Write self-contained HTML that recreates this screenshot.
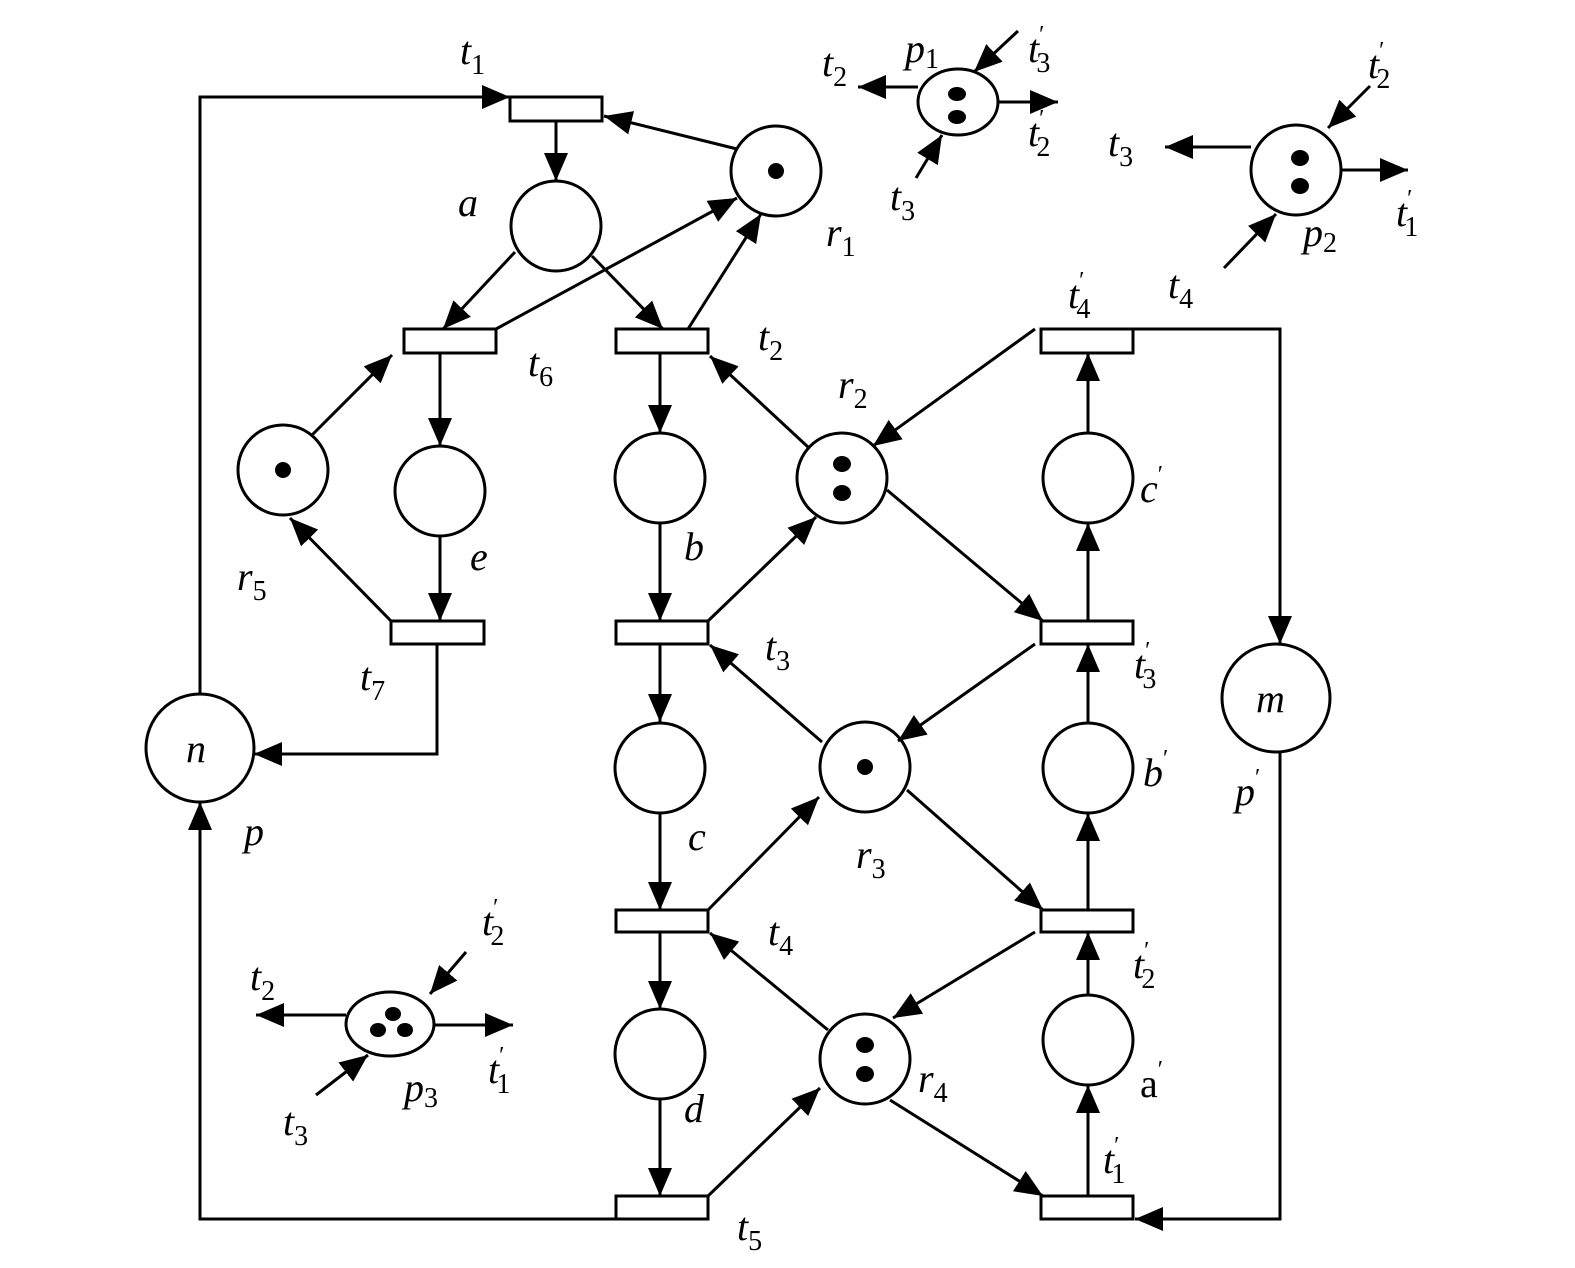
<!DOCTYPE html>
<html><head><meta charset="utf-8"><style>
html,body{margin:0;padding:0;background:#fff}
svg{display:block}
text{font-family:"Liberation Serif",serif;font-style:italic;font-size:40px;fill:#000}
.s{font-size:28px;font-style:normal}
.pr{font-size:24px;font-style:normal}
</style></head><body>
<svg width="1575" height="1268" viewBox="0 0 1575 1268" xmlns="http://www.w3.org/2000/svg">
<defs>
<marker id="ar" markerUnits="userSpaceOnUse" markerWidth="30" markerHeight="24" refX="28" refY="12" orient="auto">
<path d="M0,0 L28,12 L0,24 z" fill="#000"/>
</marker>
</defs>
<g stroke="#000" stroke-width="3" fill="none">
<rect x="510" y="97" width="92" height="24"/>
<rect x="404" y="329" width="92" height="24"/>
<rect x="616" y="329" width="92" height="24"/>
<rect x="1041" y="329" width="92" height="24"/>
<rect x="391" y="621" width="93" height="23"/>
<rect x="616" y="621" width="92" height="23"/>
<rect x="1041" y="621" width="92" height="23"/>
<rect x="616" y="910" width="92" height="22"/>
<rect x="1041" y="910" width="92" height="22"/>
<rect x="616" y="1196" width="92" height="23"/>
<rect x="1041" y="1196" width="92" height="23"/>
<circle cx="556" cy="226" r="45"/>
<circle cx="776" cy="171" r="45"/>
<circle cx="283" cy="470" r="45"/>
<circle cx="440" cy="491" r="45"/>
<circle cx="660" cy="478" r="45"/>
<circle cx="842" cy="478" r="45"/>
<circle cx="1088" cy="478" r="45"/>
<circle cx="200" cy="748" r="54"/>
<circle cx="660" cy="768" r="45"/>
<circle cx="865" cy="767" r="45"/>
<circle cx="1088" cy="768" r="45"/>
<circle cx="1276" cy="698" r="54"/>
<circle cx="660" cy="1054" r="45"/>
<circle cx="865" cy="1059" r="45"/>
<circle cx="1088" cy="1040" r="45"/>
<ellipse cx="958" cy="102" rx="40" ry="33"/>
<circle cx="1296" cy="170" r="45"/>
<ellipse cx="390" cy="1024" rx="44" ry="32"/>
<polyline points="200,694 200,97 510,97" marker-end="url(#ar)"/>
<line x1="556" y1="121" x2="556" y2="181" marker-end="url(#ar)"/>
<line x1="737" y1="149" x2="604" y2="116" marker-end="url(#ar)"/>
<line x1="515" y1="252" x2="443" y2="329" marker-end="url(#ar)"/>
<line x1="592" y1="256" x2="663" y2="329" marker-end="url(#ar)"/>
<line x1="496" y1="329" x2="737" y2="198" marker-end="url(#ar)"/>
<line x1="688" y1="329" x2="761" y2="214" marker-end="url(#ar)"/>
<line x1="440" y1="353" x2="440" y2="446" marker-end="url(#ar)"/>
<line x1="312" y1="435" x2="392" y2="355" marker-end="url(#ar)"/>
<line x1="440" y1="536" x2="440" y2="621" marker-end="url(#ar)"/>
<line x1="391" y1="621" x2="290" y2="518" marker-end="url(#ar)"/>
<polyline points="437,644 437,754 254,754" marker-end="url(#ar)"/>
<line x1="660" y1="353" x2="660" y2="433" marker-end="url(#ar)"/>
<line x1="808" y1="447" x2="710" y2="356" marker-end="url(#ar)"/>
<line x1="660" y1="523" x2="660" y2="621" marker-end="url(#ar)"/>
<line x1="708" y1="621" x2="816" y2="517" marker-end="url(#ar)"/>
<line x1="887" y1="490" x2="1043" y2="621" marker-end="url(#ar)"/>
<line x1="1035" y1="329" x2="873" y2="446" marker-end="url(#ar)"/>
<line x1="1088" y1="433" x2="1088" y2="353" marker-end="url(#ar)"/>
<line x1="1088" y1="621" x2="1088" y2="523" marker-end="url(#ar)"/>
<polyline points="1133,329 1280,329 1280,644" marker-end="url(#ar)"/>
<line x1="660" y1="644" x2="660" y2="722" marker-end="url(#ar)"/>
<line x1="822" y1="742" x2="710" y2="645" marker-end="url(#ar)"/>
<line x1="1035" y1="644" x2="898" y2="741" marker-end="url(#ar)"/>
<line x1="1088" y1="722" x2="1088" y2="644" marker-end="url(#ar)"/>
<line x1="907" y1="790" x2="1043" y2="910" marker-end="url(#ar)"/>
<line x1="660" y1="813" x2="660" y2="910" marker-end="url(#ar)"/>
<line x1="708" y1="910" x2="819" y2="797" marker-end="url(#ar)"/>
<line x1="1088" y1="910" x2="1088" y2="813" marker-end="url(#ar)"/>
<line x1="1035" y1="932" x2="893" y2="1018" marker-end="url(#ar)"/>
<line x1="828" y1="1030" x2="710" y2="933" marker-end="url(#ar)"/>
<line x1="660" y1="932" x2="660" y2="1009" marker-end="url(#ar)"/>
<line x1="1088" y1="995" x2="1088" y2="932" marker-end="url(#ar)"/>
<line x1="660" y1="1099" x2="660" y2="1196" marker-end="url(#ar)"/>
<line x1="708" y1="1196" x2="820" y2="1088" marker-end="url(#ar)"/>
<line x1="890" y1="1100" x2="1043" y2="1196" marker-end="url(#ar)"/>
<line x1="1088" y1="1196" x2="1088" y2="1085" marker-end="url(#ar)"/>
<polyline points="1280,752 1280,1219 1135,1219" marker-end="url(#ar)"/>
<polyline points="616,1219 200,1219 200,802" marker-end="url(#ar)"/>
<line x1="918" y1="87" x2="858" y2="87" marker-end="url(#ar)"/>
<line x1="998" y1="102" x2="1058" y2="102" marker-end="url(#ar)"/>
<line x1="1018" y1="31" x2="974" y2="72" marker-end="url(#ar)"/>
<line x1="916" y1="178" x2="942" y2="135" marker-end="url(#ar)"/>
<line x1="1251" y1="147" x2="1165" y2="147" marker-end="url(#ar)"/>
<line x1="1341" y1="170" x2="1408" y2="170" marker-end="url(#ar)"/>
<line x1="1370" y1="86" x2="1328" y2="128" marker-end="url(#ar)"/>
<line x1="1224" y1="268" x2="1276" y2="214" marker-end="url(#ar)"/>
<line x1="346" y1="1015" x2="256" y2="1015" marker-end="url(#ar)"/>
<line x1="434" y1="1025" x2="513" y2="1025" marker-end="url(#ar)"/>
<line x1="466" y1="952" x2="430" y2="994" marker-end="url(#ar)"/>
<line x1="316" y1="1095" x2="368" y2="1055" marker-end="url(#ar)"/>
</g>
<g fill="#000">
<circle cx="776" cy="171" r="8"/>
<circle cx="283" cy="470" r="8"/>
<ellipse cx="842" cy="464" rx="9" ry="8"/><ellipse cx="842" cy="493" rx="9" ry="8"/>
<circle cx="865" cy="767" r="8"/>
<ellipse cx="865" cy="1045" rx="9" ry="8"/><ellipse cx="865" cy="1074" rx="9" ry="8"/>
<ellipse cx="957" cy="94" rx="9" ry="7"/><ellipse cx="957" cy="117" rx="9" ry="7"/>
<ellipse cx="1300" cy="158" rx="9" ry="8"/><ellipse cx="1300" cy="186" rx="9" ry="8"/>
<ellipse cx="393" cy="1014" rx="8" ry="7"/><ellipse cx="378" cy="1030" rx="8" ry="7"/><ellipse cx="405" cy="1030" rx="8" ry="7"/>
</g>
<text x="460" y="64">t<tspan class="s" dy="10">1</tspan></text>
<text x="458" y="216">a</text>
<text x="826" y="246">r<tspan class="s" dy="10">1</tspan></text>
<text x="822" y="76">t<tspan class="s" dy="10">2</tspan></text>
<text x="905" y="62">p<tspan class="s" dy="6">1</tspan></text>
<text x="1028" y="62">t<tspan class="pr" dy="-20">′</tspan><tspan class="s" dx="-8" dy="30">3</tspan></text>
<text x="1028" y="146">t<tspan class="pr" dy="-20">′</tspan><tspan class="s" dx="-8" dy="30">2</tspan></text>
<text x="890" y="210">t<tspan class="s" dy="10">3</tspan></text>
<text x="1108" y="156">t<tspan class="s" dy="10">3</tspan></text>
<text x="1368" y="78">t<tspan class="pr" dy="-20">′</tspan><tspan class="s" dx="-8" dy="30">2</tspan></text>
<text x="1396" y="226">t<tspan class="pr" dy="-20">′</tspan><tspan class="s" dx="-8" dy="30">1</tspan></text>
<text x="1303" y="246">p<tspan class="s" dy="6">2</tspan></text>
<text x="1168" y="298">t<tspan class="s" dy="10">4</tspan></text>
<text x="1068" y="308">t<tspan class="pr" dy="-20">′</tspan><tspan class="s" dx="-8" dy="30">4</tspan></text>
<text x="528" y="376">t<tspan class="s" dy="10">6</tspan></text>
<text x="758" y="350">t<tspan class="s" dy="10">2</tspan></text>
<text x="838" y="398">r<tspan class="s" dy="10">2</tspan></text>
<text x="237" y="590">r<tspan class="s" dy="10">5</tspan></text>
<text x="470" y="570">e</text>
<text x="684" y="560">b</text>
<text x="1140" y="502">c<tspan class="pr" dy="-20">′</tspan></text>
<text x="360" y="690">t<tspan class="s" dy="10">7</tspan></text>
<text x="765" y="660">t<tspan class="s" dy="10">3</tspan></text>
<text x="1134" y="678">t<tspan class="pr" dy="-20">′</tspan><tspan class="s" dx="-8" dy="30">3</tspan></text>
<text x="1256" y="712">m</text>
<text x="186" y="762">n</text>
<text x="1235" y="805">p<tspan class="pr" dy="-20">′</tspan></text>
<text x="1143" y="786">b<tspan class="pr" dy="-20">′</tspan></text>
<text x="244" y="845">p</text>
<text x="688" y="850">c</text>
<text x="856" y="868">r<tspan class="s" dy="10">3</tspan></text>
<text x="768" y="945">t<tspan class="s" dy="10">4</tspan></text>
<text x="1133" y="978">t<tspan class="pr" dy="-20">′</tspan><tspan class="s" dx="-8" dy="30">2</tspan></text>
<text x="250" y="990">t<tspan class="s" dy="10">2</tspan></text>
<text x="482" y="935">t<tspan class="pr" dy="-20">′</tspan><tspan class="s" dx="-8" dy="30">2</tspan></text>
<text x="488" y="1083">t<tspan class="pr" dy="-20">′</tspan><tspan class="s" dx="-8" dy="30">1</tspan></text>
<text x="404" y="1101">p<tspan class="s" dy="6">3</tspan></text>
<text x="283" y="1135">t<tspan class="s" dy="10">3</tspan></text>
<text x="684" y="1122">d</text>
<text x="918" y="1092">r<tspan class="s" dy="10">4</tspan></text>
<text x="1140" y="1097" style="font-style:normal">a<tspan class="pr" dy="-20">′</tspan></text>
<text x="1103" y="1173">t<tspan class="pr" dy="-20">′</tspan><tspan class="s" dx="-8" dy="30">1</tspan></text>
<text x="737" y="1240">t<tspan class="s" dy="10">5</tspan></text>
</svg>
</body></html>
